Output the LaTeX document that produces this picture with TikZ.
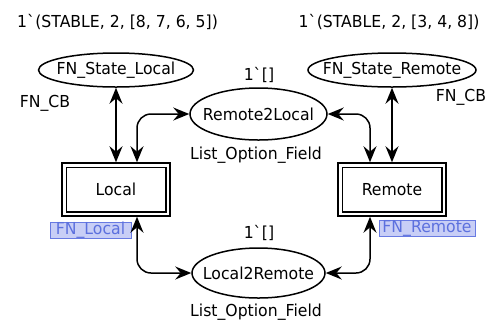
\documentclass[tikz,border=0pt]{standalone}
\usepackage{fontspec}
\setmainfont{DejaVu Sans}[FakeStretch=0.95]
\usetikzlibrary{shapes.geometric,arrows.meta}
\definecolor{tagfill}{RGB}{200,206,246}
\definecolor{tagline}{RGB}{104,122,226}
\definecolor{tagtext}{RGB}{92,112,222}
\tikzset{
  every node/.style={font=\fontsize{16.5bp}{20bp}\selectfont, inner sep=0pt},
  every label/.style={font=\fontsize{16.5bp}{20bp}\selectfont, inner sep=0pt},
  place/.style={ellipse, draw, line width=1.5bp},
  transbox/.style={draw, line width=1.5bp, minimum width=108bp, minimum height=53bp},
  arc/.style={line width=1.5bp, {Stealth[length=16bp,width=13bp,inset=5.5bp]}-{Stealth[length=16bp,width=13bp,inset=5.5bp]}},
  tag/.style={draw=tagline, fill=tagfill, text=tagtext, line width=1bp, minimum height=16bp, text height=12bp, text depth=3.5bp},
}
\begin{document}
\begin{tikzpicture}[x=1bp, y=-1bp]
  \useasboundingbox (0,0) rectangle (489,325);

  % places (ellipse size fixed, name set as a centred label)
  \node[place, minimum width=155bp, minimum height=34bp, label=center:FN\_State\_Local] (sl) at (116,70) {};
  \node[place, minimum width=168bp, minimum height=34bp, label=center:FN\_State\_Remote] (sr) at (392,70) {};
  \node[place, minimum width=137bp, minimum height=52bp, label=center:Remote2Local] (r2l) at (258.5,114) {};
  \node[place, minimum width=133bp, minimum height=50bp, label=center:Local2Remote] (l2r) at (258.5,273) {};

  % substitution transitions (double frame)
  \node[transbox] (loc) at (116,189.5) {Local};
  \node[transbox] (rem) at (392,189.5) {Remote};
  \draw[line width=1.5bp] ([shift={(5bp,5bp)}]loc.south west) rectangle ([shift={(-5bp,-5bp)}]loc.north east);
  \draw[line width=1.5bp] ([shift={(5bp,5bp)}]rem.south west) rectangle ([shift={(-5bp,-5bp)}]rem.north east);

  % initial markings, colour sets and port tags
  \node (mkl) at (117.5,22) {1\textasciigrave(STABLE, 2, [8, 7, 6, 5])};
  \node (mkr) at (389,22) {1\textasciigrave(STABLE, 2, [3, 4, 8])};
  \node (csl) at (45,103) {FN\_CB};
  \node (csr) at (461,97) {FN\_CB};
  \node (mk1) at (259,75) {1\textasciigrave[]};
  \node (cs1) at (256,155) {List\_Option\_Field};
  \node (mk2) at (259,233) {1\textasciigrave[]};
  \node (cs2) at (256,312) {List\_Option\_Field};
  \node[tag, minimum width=81bp] (tl) at (90.5,230) {FN\_Local};
  \node[tag, minimum width=96bp] (tr) at (427,228) {FN\_Remote};

  % arcs
  \draw[arc] (sl.south) -- (loc.north);
  \draw[arc] (sr.south) -- (rem.north);
  \draw[arc, rounded corners=14bp] (r2l.west) -| ([xshift=21bp]loc.north);
  \draw[arc, rounded corners=14bp] (r2l.east) -| ([xshift=-22bp]rem.north);
  \draw[arc, rounded corners=14bp] ([xshift=21bp]loc.south) |- (l2r.west);
  \draw[arc, rounded corners=14bp] ([xshift=-22bp]rem.south) |- (l2r.east);
\end{tikzpicture}
\end{document}
